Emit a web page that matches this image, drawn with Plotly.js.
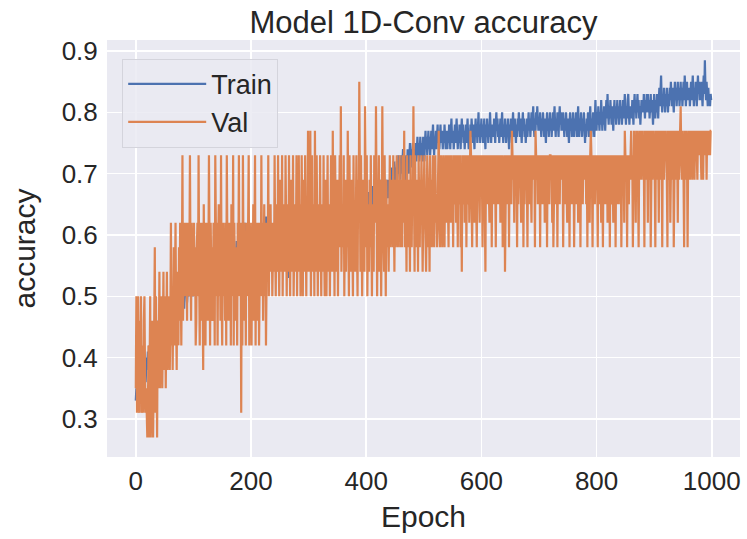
<!DOCTYPE html>
<html>
<head>
<meta charset="utf-8">
<script src="https://cdn.plot.ly/plotly-3.0.1.min.js"></script>
<style>html,body{margin:0;padding:0;background:#fff;}#chart{width:747px;height:539px;}</style>
</head>
<body>
<div id="chart"></div>
<script>
// Training accuracy per epoch (20 epochs per row)
const train = [
.33,.35,.34,.36,.33,.37,.35,.34,.36,.38,.35,.37,.36,.34,.38,.37,.39,.36,.38,.4,
.39,.41,.38,.4,.42,.4,.43,.41,.39,.42,.44,.41,.43,.42,.45,.43,.41,.44,.46,.43,
.45,.43,.46,.44,.47,.45,.43,.46,.48,.45,.47,.44,.46,.48,.47,.45,.49,.46,.48,.47,
.48,.46,.49,.47,.5,.48,.46,.49,.51,.48,.5,.47,.49,.51,.48,.5,.52,.49,.51,.5,
.49,.51,.5,.52,.48,.51,.53,.5,.52,.49,.51,.53,.5,.52,.54,.51,.5,.53,.52,.5,
.52,.54,.51,.53,.5,.52,.55,.53,.51,.54,.52,.5,.53,.55,.52,.54,.51,.53,.55,.52,
.54,.52,.55,.53,.51,.54,.56,.53,.55,.52,.54,.56,.53,.55,.52,.54,.57,.54,.53,.55,
.53,.56,.54,.52,.55,.57,.54,.56,.53,.55,.57,.54,.56,.55,.53,.56,.58,.55,.54,.57,
.55,.57,.54,.56,.58,.55,.57,.54,.56,.58,.55,.57,.56,.54,.57,.59,.56,.58,.55,.57,
.56,.58,.55,.57,.59,.56,.58,.6,.57,.62,.58,.56,.59,.57,.6,.58,.56,.59,.57,.6,
.58,.56,.59,.57,.6,.58,.56,.59,.61,.58,.57,.6,.58,.56,.59,.61,.58,.57,.6,.58,
.56,.59,.57,.6,.58,.61,.63,.59,.57,.6,.58,.56,.59,.57,.6,.58,.56,.59,.57,.55,
.58,.56,.59,.57,.54,.58,.6,.57,.59,.56,.58,.6,.57,.59,.56,.58,.55,.59,.57,.6,
.58,.56,.59,.57,.6,.58,.53,.57,.59,.56,.6,.58,.57,.59,.61,.58,.56,.6,.58,.57,
.59,.61,.58,.6,.57,.59,.61,.58,.6,.62,.59,.57,.6,.58,.61,.59,.62,.6,.58,.61,
.59,.62,.6,.58,.61,.59,.62,.6,.58,.61,.63,.6,.59,.62,.6,.58,.61,.63,.6,.62,
.6,.58,.61,.63,.6,.62,.59,.61,.63,.6,.62,.59,.61,.64,.6,.62,.6,.63,.61,.59,
.62,.6,.63,.61,.64,.62,.6,.63,.61,.64,.62,.6,.63,.61,.64,.62,.61,.63,.6,.64,
.62,.64,.61,.63,.65,.62,.64,.61,.63,.65,.62,.64,.63,.61,.64,.62,.6,.63,.65,.62,
.64,.62,.65,.63,.61,.64,.66,.63,.65,.62,.64,.66,.63,.65,.62,.64,.66,.63,.65,.64,
.66,.63,.65,.67,.64,.66,.63,.65,.67,.64,.66,.68,.65,.63,.66,.64,.67,.65,.66,.64,
.67,.65,.68,.66,.64,.67,.69,.66,.68,.65,.67,.69,.66,.68,.65,.67,.69,.68,.66,.68,
.69,.67,.7,.68,.71,.69,.67,.7,.72,.69,.71,.68,.7,.72,.69,.71,.73,.7,.72,.69,
.71,.73,.7,.72,.74,.71,.73,.7,.72,.66,.73,.71,.74,.72,.7,.73,.75,.72,.74,.71,
.73,.75,.72,.74,.71,.73,.75,.72,.74,.76,.73,.75,.72,.74,.76,.73,.75,.72,.74,.76,
.74,.72,.75,.77,.74,.76,.73,.75,.77,.74,.76,.73,.75,.77,.74,.76,.78,.75,.73,.76,
.75,.77,.74,.76,.78,.75,.77,.74,.76,.78,.75,.77,.76,.74,.77,.75,.78,.76,.74,.77,
.76,.74,.77,.75,.78,.76,.74,.77,.79,.76,.75,.77,.74,.76,.78,.75,.77,.79,.76,.74,
.77,.75,.78,.76,.74,.77,.79,.76,.78,.75,.77,.74,.76,.78,.75,.77,.79,.76,.74,.77,
.75,.78,.76,.79,.77,.75,.78,.76,.74,.77,.79,.76,.78,.75,.77,.8,.76,.78,.75,.77,
.79,.76,.78,.75,.77,.79,.76,.74,.78,.76,.79,.77,.75,.78,.76,.8,.77,.75,.78,.76,
.78,.76,.79,.77,.75,.78,.8,.77,.79,.76,.78,.75,.77,.79,.76,.78,.8,.77,.75,.78,
.76,.79,.77,.75,.78,.76,.79,.77,.74,.78,.76,.79,.77,.75,.78,.8,.77,.76,.79,.77,
.75,.78,.76,.79,.77,.8,.78,.76,.79,.77,.75,.78,.8,.77,.79,.76,.78,.75,.77,.79,
.76,.78,.8,.77,.79,.76,.78,.8,.77,.79,.81,.78,.76,.79,.77,.8,.78,.81,.79,.77,
.79,.77,.8,.78,.76,.79,.77,.8,.78,.76,.79,.77,.75,.78,.8,.77,.79,.76,.78,.8,
.77,.79,.76,.78,.8,.77,.79,.81,.78,.76,.79,.77,.8,.78,.76,.79,.81,.78,.8,.77,
.79,.77,.8,.78,.76,.79,.77,.8,.78,.76,.79,.77,.75,.78,.8,.77,.79,.76,.78,.8,
.78,.76,.79,.77,.8,.78,.76,.79,.81,.78,.76,.79,.77,.8,.78,.76,.79,.77,.8,.78,
.75,.78,.76,.79,.77,.8,.78,.76,.79,.81,.78,.76,.79,.77,.8,.78,.76,.79,.82,.79,
.77,.8,.78,.81,.79,.77,.8,.78,.82,.79,.77,.8,.78,.81,.79,.77,.8,.82,.79,.83,
.8,.78,.81,.79,.82,.8,.78,.81,.79,.77,.8,.82,.79,.81,.78,.8,.82,.79,.81,.78,
.8,.82,.79,.81,.78,.8,.82,.79,.81,.83,.8,.78,.81,.79,.82,.83,.8,.78,.81,.79,
.81,.79,.82,.8,.78,.81,.83,.8,.82,.79,.81,.83,.8,.82,.79,.81,.78,.8,.82,.8,
.82,.8,.83,.81,.79,.82,.8,.83,.81,.83,.8,.82,.79,.81,.83,.8,.82,.8,.78,.81,
.83,.81,.79,.82,.8,.83,.81,.79,.82,.84,.81,.83,.86,.82,.8,.83,.81,.84,.82,.8,
.83,.81,.84,.82,.8,.83,.81,.84,.82,.85,.83,.81,.84,.82,.8,.83,.85,.82,.84,.81,
.83,.85,.82,.84,.81,.83,.85,.82,.84,.81,.83,.85,.82,.86,.84,.81,.83,.85,.82,.84,
.82,.84,.81,.83,.85,.82,.84,.86,.83,.81,.84,.82,.85,.83,.81,.84,.86,.83,.85,.82,
.84,.82,.85,.83,.81,.84,.86,.83,.885,.84,.82,.85,.83,.81,.84,.82,.83,.81,.83,.82
];

// Validation accuracy per epoch (20 epochs per row)
const val = [
.35,.5,.31,.42,.5,.35,.31,.46,.38,.5,.31,.35,.42,.31,.46,.5,.38,.31,.35,.27,
.27,.31,.42,.27,.35,.5,.27,.31,.38,.46,.27,.35,.42,.58,.31,.5,.38,.27,.46,.35,
.42,.54,.35,.46,.38,.5,.35,.42,.54,.38,.46,.5,.35,.42,.54,.38,.46,.5,.42,.38,
.46,.62,.42,.5,.38,.54,.58,.42,.5,.62,.46,.38,.54,.5,.42,.58,.46,.62,.5,.42,
.54,.73,.46,.58,.62,.5,.54,.62,.58,.46,.62,.58,.5,.54,.73,.54,.46,.62,.5,.58,
.5,.62,.54,.58,.42,.46,.58,.62,.5,.73,.54,.42,.62,.46,.58,.62,.5,.38,.65,.5,
.58,.42,.62,.54,.62,.46,.54,.73,.58,.42,.62,.54,.58,.46,.5,.62,.58,.42,.73,.54,
.5,.62,.42,.58,.65,.5,.62,.46,.73,.5,.42,.58,.62,.5,.58,.46,.62,.42,.73,.58,
.58,.46,.62,.54,.62,.42,.65,.58,.5,.73,.42,.62,.54,.58,.46,.58,.42,.62,.54,.73,
.5,.62,.58,.31,.62,.42,.73,.54,.62,.46,.58,.42,.62,.58,.5,.58,.73,.42,.62,.54,
.58,.42,.62,.54,.65,.46,.62,.73,.42,.58,.46,.62,.54,.62,.42,.58,.62,.5,.73,.54,
.62,.46,.58,.65,.5,.62,.42,.58,.62,.54,.73,.5,.62,.58,.65,.54,.62,.5,.58,.62,
.54,.73,.58,.5,.65,.62,.54,.73,.58,.5,.62,.69,.54,.58,.73,.5,.62,.58,.65,.54,
.73,.58,.5,.62,.65,.54,.73,.58,.5,.69,.62,.54,.58,.73,.5,.62,.65,.54,.58,.73,
.5,.62,.58,.73,.54,.65,.5,.58,.73,.62,.5,.69,.58,.54,.73,.62,.5,.65,.58,.77,
.54,.65,.58,.77,.5,.62,.73,.54,.58,.65,.5,.77,.62,.54,.73,.58,.5,.65,.62,.54,
.73,.58,.5,.62,.65,.54,.73,.58,.5,.62,.69,.5,.58,.73,.54,.62,.65,.5,.58,.73,
.62,.54,.77,.58,.65,.5,.73,.62,.54,.58,.69,.5,.65,.62,.73,.58,.81,.54,.62,.65,
.58,.73,.5,.62,.69,.54,.65,.58,.77,.62,.5,.73,.58,.65,.54,.69,.62,.5,.73,.58,
.65,.54,.62,.73,.58,.5,.69,.62,.85,.58,.54,.73,.65,.5,.62,.69,.58,.54,.81,.65,
.58,.73,.5,.62,.65,.54,.69,.58,.73,.62,.5,.65,.58,.54,.73,.69,.62,.81,.58,.5,
.65,.62,.73,.54,.58,.69,.5,.62,.81,.65,.58,.54,.73,.62,.5,.69,.58,.65,.62,.54,
.65,.73,.58,.62,.69,.65,.58,.73,.62,.54,.69,.58,.65,.73,.62,.58,.69,.65,.73,.58,
.62,.69,.58,.73,.65,.62,.77,.58,.69,.65,.54,.73,.62,.58,.69,.65,.54,.73,.62,.58,
.69,.65,.81,.58,.54,.73,.62,.69,.58,.65,.54,.73,.62,.58,.69,.65,.73,.58,.54,.62,
.69,.73,.65,.58,.54,.62,.73,.69,.58,.65,.54,.73,.62,.69,.58,.65,.73,.62,.58,.69,
.73,.62,.65,.58,.69,.73,.77,.62,.58,.65,.73,.69,.58,.62,.73,.65,.58,.69,.73,.62,
.69,.73,.65,.58,.73,.69,.73,.62,.73,.65,.69,.58,.73,.69,.65,.73,.62,.73,.69,.58,
.73,.69,.65,.73,.58,.69,.54,.73,.65,.69,.73,.62,.69,.73,.58,.73,.65,.69,.73,.62,
.69,.77,.73,.65,.58,.73,.69,.73,.62,.69,.73,.65,.58,.73,.69,.73,.65,.62,.73,.69,
.73,.69,.58,.73,.69,.73,.65,.54,.73,.69,.73,.65,.73,.69,.62,.73,.69,.73,.58,.73,
.69,.73,.65,.73,.69,.58,.73,.69,.73,.65,.73,.69,.73,.62,.73,.69,.73,.58,.69,.73,
.73,.54,.69,.73,.65,.73,.69,.73,.58,.73,.69,.73,.65,.77,.73,.69,.73,.62,.73,.69,
.73,.69,.58,.73,.65,.73,.69,.73,.69,.62,.73,.69,.73,.58,.73,.65,.73,.69,.73,.69,
.58,.73,.69,.73,.65,.73,.69,.62,.73,.69,.73,.69,.73,.58,.77,.73,.69,.73,.65,.73,
.69,.73,.58,.73,.69,.73,.65,.73,.69,.73,.62,.73,.69,.73,.58,.73,.69,.73,.65,.73,
.73,.69,.73,.62,.73,.58,.69,.73,.65,.73,.69,.73,.58,.73,.69,.73,.65,.73,.69,.73,
.69,.73,.58,.73,.69,.73,.65,.73,.69,.62,.73,.69,.73,.58,.73,.69,.73,.65,.73,.69,
.73,.58,.69,.73,.65,.73,.69,.73,.62,.73,.69,.73,.58,.73,.69,.73,.65,.73,.69,.73,
.69,.73,.65,.73,.58,.73,.69,.73,.62,.73,.77,.73,.69,.58,.73,.69,.73,.65,.73,.69,
.73,.69,.58,.73,.65,.73,.69,.73,.62,.73,.69,.58,.73,.69,.73,.65,.73,.69,.73,.62,
.73,.69,.73,.58,.73,.65,.69,.73,.69,.62,.73,.69,.73,.58,.73,.69,.73,.65,.73,.69,
.73,.65,.73,.58,.69,.73,.69,.73,.62,.77,.73,.69,.73,.58,.73,.69,.65,.73,.69,.73,
.77,.69,.73,.58,.73,.77,.69,.73,.62,.77,.73,.77,.69,.58,.73,.77,.73,.69,.77,.73,
.77,.69,.73,.58,.77,.73,.69,.77,.73,.62,.77,.73,.69,.77,.58,.73,.77,.69,.73,.77,
.73,.69,.58,.77,.73,.69,.77,.73,.62,.77,.73,.69,.77,.73,.58,.77,.73,.69,.77,.73,
.77,.73,.69,.58,.77,.73,.69,.77,.62,.73,.77,.69,.73,.77,.58,.73,.77,.69,.73,.77,
.73,.62,.77,.69,.73,.77,.81,.73,.69,.77,.73,.69,.58,.77,.73,.69,.77,.73,.58,.73,
.77,.73,.69,.77,.73,.77,.69,.73,.77,.73,.69,.77,.73,.77,.73,.69,.77,.73,.77,.73,
.77,.73,.69,.77,.73,.69,.77,.73,.77,.73,.77,.69,.77,.73,.77,.73,.77,.73,.77,.77
];

const xTicks = [0, 200, 400, 600, 800, 1000];
const yTicks = [0.3, 0.4, 0.5, 0.6, 0.7, 0.8, 0.9];
const seriesNames = ['Train', 'Val'];

const epochs = train.map((_, i) => i);
const epochsVal = val.map((_, i) => i);

const FONT = '"Liberation Sans", Arial, sans-serif';
const TXT = '#262626';

const traces = [
  {x: epochs, y: train, name: seriesNames[0], type: 'scatter', mode: 'lines',
   line: {color: '#4C72B0', width: 2.2}},
  {x: epochsVal, y: val, name: seriesNames[1], type: 'scatter', mode: 'lines',
   line: {color: '#DD8452', width: 2.2}}
];

const layout = {
  width: 747, height: 539,
  paper_bgcolor: '#ffffff',
  plot_bgcolor: '#EAEAF2',
  margin: {l: 107, r: 7, t: 40, b: 82},
  font: {family: FONT, color: TXT, size: 26},
  title: {text: 'Model 1D-Conv accuracy', font: {family: FONT, size: 31, color: TXT},
          xref: 'paper', x: 0.5, xanchor: 'center', yref: 'container', y: 0.958, yanchor: 'middle'},
  showlegend: true,
  legend: {x: 0.024, y: 0.955, xanchor: 'left', yanchor: 'top', itemwidth: 78,
           bgcolor: 'rgba(234,234,242,0.85)', bordercolor: '#d4d4dc', borderwidth: 1,
           font: {family: FONT, size: 27, color: TXT}},
  xaxis: {range: [-50, 1049], tickvals: xTicks, ticktext: xTicks.map(String),
          showgrid: true, gridcolor: '#ffffff', gridwidth: 1.6, zeroline: false,
          showline: false, ticks: 'outside', ticklen: 1, tickcolor: 'rgba(0,0,0,0)',
          tickfont: {family: FONT, size: 26, color: TXT},
          title: {text: 'Epoch', font: {family: FONT, size: 30, color: TXT}, standoff: 10}},
  yaxis: {range: [0.238, 0.918], tickvals: yTicks, ticktext: yTicks.map(v => v.toFixed(1)),
          showgrid: true, gridcolor: '#ffffff', gridwidth: 1.6, zeroline: false,
          showline: false, ticks: 'outside', ticklen: 3, tickcolor: 'rgba(0,0,0,0)',
          tickfont: {family: FONT, size: 26, color: TXT},
          title: {text: 'accuracy', font: {family: FONT, size: 30, color: TXT}, standoff: 17}}
};

Plotly.newPlot('chart', traces, layout, {displayModeBar: false, staticPlot: true});
</script>
</body>
</html>
